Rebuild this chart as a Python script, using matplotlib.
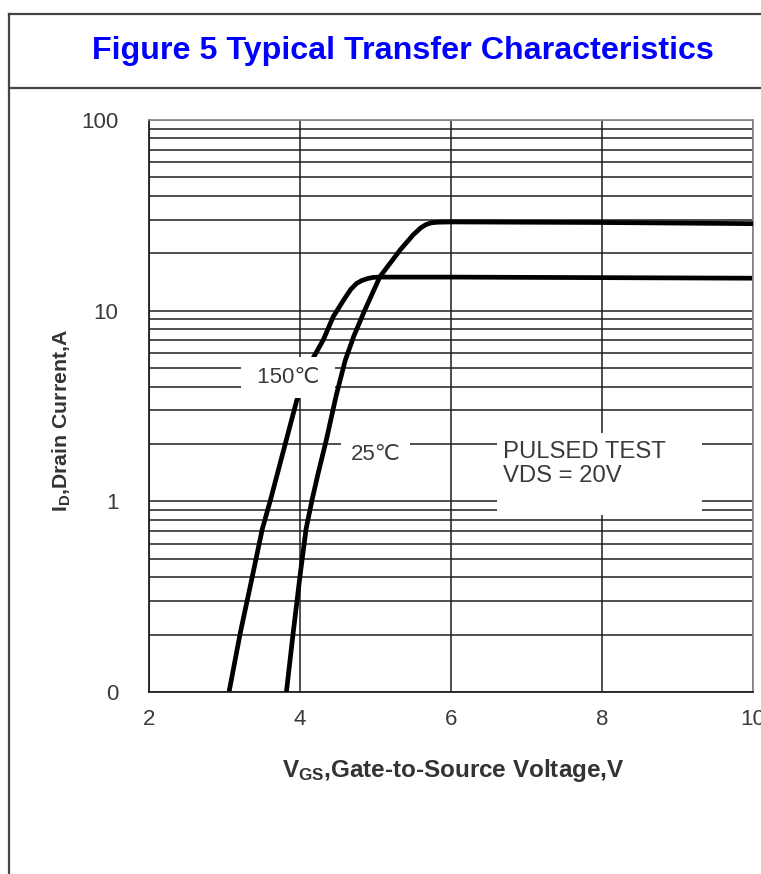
import matplotlib
matplotlib.use("Agg")
import matplotlib.pyplot as plt
from matplotlib.ticker import LogLocator, NullFormatter, FixedLocator
from matplotlib.lines import Line2D
from matplotlib.patches import Rectangle

plt.rcParams['font.family'] = ['Liberation Sans', 'DejaVu Sans']
plt.rcParams['mathtext.fontset'] = 'custom'
plt.rcParams['mathtext.rm'] = 'Liberation Sans'
plt.rcParams['mathtext.bf'] = 'Liberation Sans:bold'

# ---- data ----
vgs_150 = [3.06, 3.21, 3.37, 3.50, 3.61, 3.68, 3.96, 4.18, 4.31, 4.44, 4.58, 4.67, 4.75, 4.82, 4.90, 4.97, 5.05, 6.0, 8.0, 10.0]
id_150 = [0.10, 0.205, 0.406, 0.714, 1.02, 1.30, 3.42, 5.7, 7.05, 9.3, 11.4, 12.9, 13.9, 14.4, 14.75, 14.95, 15.0, 15.0, 14.9, 14.8]

vgs_25 = [3.82, 3.91, 4.00, 4.08, 4.16, 4.24, 4.35, 4.48, 4.60, 4.71, 4.85, 5.06, 5.33, 5.50, 5.60, 5.67, 5.74, 5.82, 6.0, 8.0, 10.0]
id_25 = [0.10, 0.205, 0.406, 0.714, 1.02, 1.40, 2.11, 3.6, 5.5, 7.3, 9.9, 15.1, 20.9, 25.0, 27.2, 28.3, 28.9, 29.1, 29.2, 29.0, 28.6]

x_ticks = [2, 4, 6, 8, 10]
x_tick_labels = ['2', '4', '6', '8', '10']
y_ticks = [0.1, 1, 10, 100]
y_tick_labels = ['0', '1', '10', '100']

title = 'Figure 5 Typical Transfer Characteristics'
label_150 = '150\u2103'
label_25 = '25\u2103'
note = 'PULSED TEST\nVDS = 20V'

W, H = 761, 874
fig = plt.figure(figsize=(W / 100, H / 100), dpi=100)
fig.patch.set_facecolor('white')

def fx(px):
    return px / W

def fy(py):
    return 1 - py / H

# outer frame
frame_col = '#444444'
fig.add_artist(Line2D([fx(9), fx(9)], [fy(14), fy(874)], color=frame_col, lw=1.6))
fig.add_artist(Line2D([fx(9), 1.0], [fy(14), fy(14)], color=frame_col, lw=1.6))
fig.add_artist(Line2D([fx(9), 1.0], [fy(88), fy(88)], color=frame_col, lw=1.6))
fig.text(fx(403), fy(51), title, color='#0000ff', fontsize=23.2, fontweight='bold',
         ha='center', va='center')

ax = fig.add_axes([fx(149), fy(692), fx(753) - fx(149), fy(120) - fy(692)])
ax.set_yscale('log')
ax.set_xlim(2, 10)
ax.set_ylim(0.1, 100)
ax.set_axisbelow(True)

ax.xaxis.set_major_locator(FixedLocator(x_ticks))
ax.set_xticklabels(x_tick_labels)
ax.yaxis.set_major_locator(FixedLocator(y_ticks))
ax.set_yticklabels(y_tick_labels)
ax.yaxis.set_minor_locator(LogLocator(base=10, subs=range(2, 10)))
ax.yaxis.set_minor_formatter(NullFormatter())

grid_col = '#1e1e1e'
ax.grid(True, which='both', axis='y', color=grid_col, lw=1.1)
ax.grid(True, which='major', axis='x', color=grid_col, lw=1.1)
ax.tick_params(which='both', length=0)
ax.tick_params(axis='y', pad=22, labelsize=16, labelcolor='#3a3a3a')
ax.tick_params(axis='x', pad=12, labelsize=16, labelcolor='#3a3a3a')

for s in ['left', 'bottom']:
    ax.spines[s].set_color('#222222')
    ax.spines[s].set_linewidth(1.3)
for s in ['top', 'right']:
    ax.spines[s].set_color('#8a8a8a')
    ax.spines[s].set_linewidth(1.3)

ax.plot(vgs_150, id_150, color='black', lw=3.4, solid_capstyle='butt',
        solid_joinstyle='round', zorder=2)
ax.text(3.84, 4.46, ' ' + label_150 + ' ', fontsize=16, color='#3a3a3a', ha='center', va='center',
        zorder=3, bbox=dict(boxstyle='square,pad=0.45', facecolor='white', edgecolor='none'))
ax.text(5.0, 1.76, label_25, fontsize=16, color='#3a3a3a', ha='center', va='center',
        zorder=3, bbox=dict(boxstyle='square,pad=0.45', facecolor='white', edgecolor='none'))
ax.plot(vgs_25, id_25, color='black', lw=3.4, solid_capstyle='butt',
        solid_joinstyle='round', zorder=4)

ax.add_patch(Rectangle((0.576, 0.3094), 0.9156 - 0.576, 0.4528 - 0.3094,
                       transform=ax.transAxes, facecolor='white', edgecolor='none', zorder=3))
ax.text(0.586, 0.3986, note, transform=ax.transAxes, fontsize=17.2, color='#3a3a3a',
        ha='left', va='center', linespacing=1.12, zorder=3.5)

fig.text(fx(62), fy(421), r'$\mathbf{I_D}$,Drain Current,A', rotation=90, fontsize=15.3,
         fontweight='bold', color='#333333', ha='center', va='center')
fig.text(fx(453), fy(770), r'$\mathbf{V_{GS}}$,Gate-to-Source Voltage,V', fontsize=17.5,
         fontweight='bold', color='#333333', ha='center', va='center')

fig.savefig('out.png', dpi=100, facecolor='white')
